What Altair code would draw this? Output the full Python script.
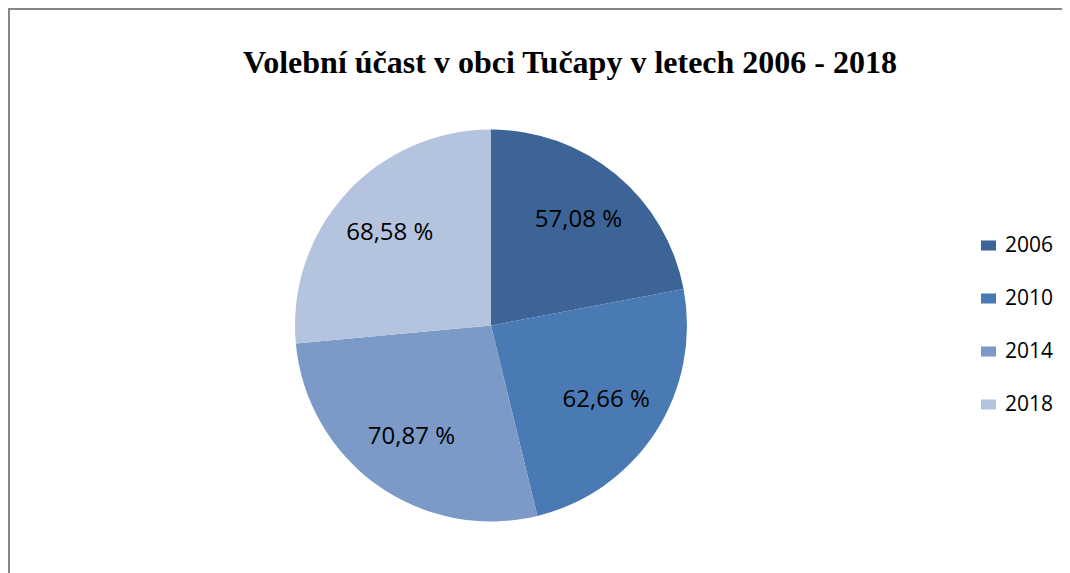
import altair as alt
import pandas as pd

title_text = "Volební účast v obci Tučapy v letech 2006 - 2018"
years = ["2006", "2010", "2014", "2018"]
values = [57.08, 62.66, 70.87, 68.58]
labels = ["57,08 %", "62,66 %", "70,87 %", "68,58 %"]
colors = ["#3d6496", "#4a7ab4", "#7b9ac8", "#b4c3de"]

df = pd.DataFrame({"year": years, "value": values, "label": labels, "order": range(len(years))})

W, H = 1054, 565
CX, CY, R = 483, 317.5, 196

base = alt.Chart(df).encode(
    theta=alt.Theta("value:Q", stack=True),
    order=alt.Order("order:Q"),
)

pie = base.mark_arc(radius=R).encode(
    x=alt.value(CX),
    y=alt.value(CY),
    color=alt.Color(
        "year:N",
        scale=alt.Scale(domain=years, range=colors),
        legend=alt.Legend(
            title=None,
            orient="none",
            legendX=970,
            legendY=227,
            symbolType="M-1,-0.67H1V0.67H-1Z",
            symbolSize=225,
            symbolStrokeWidth=0,
            labelFont="Open Sans",
            labelFontSize=21,
            labelColor="#000000",
            labelOffset=6,
            rowPadding=31,
            padding=0,
        ),
    ),
)

text = base.mark_text(
    radius=137, font="Open Sans", fontSize=24, color="#000000"
).encode(
    x=alt.value(CX),
    y=alt.value(CY),
    text="label:N",
)

title_df = pd.DataFrame({"t": [title_text]})
title = alt.Chart(title_df).mark_text(
    font="Liberation Serif", fontSize=32, fontWeight="bold", color="#000000",
    align="center", baseline="alphabetic",
).encode(x=alt.value(562), y=alt.value(65), text="t:N")

frame_df = pd.DataFrame({"k": ["frame"]})
left = alt.Chart(frame_df).mark_rule(color="#868686", strokeWidth=2).encode(
    x=alt.value(1), y=alt.value(0), y2=alt.value(H)
)
top = alt.Chart(frame_df).mark_rule(color="#868686", strokeWidth=2).encode(
    x=alt.value(0), x2=alt.value(W), y=alt.value(1)
)

chart = (
    alt.layer(pie, text, title, left, top)
    .properties(
        width=W,
        height=H,
        padding=0,
        autosize=alt.AutoSizeParams(type="none"),
    )
    .configure_view(stroke=None)
    .configure(background="white")
)

chart.save("out.html", embed_options={"renderer": "svg", "actions": False})
